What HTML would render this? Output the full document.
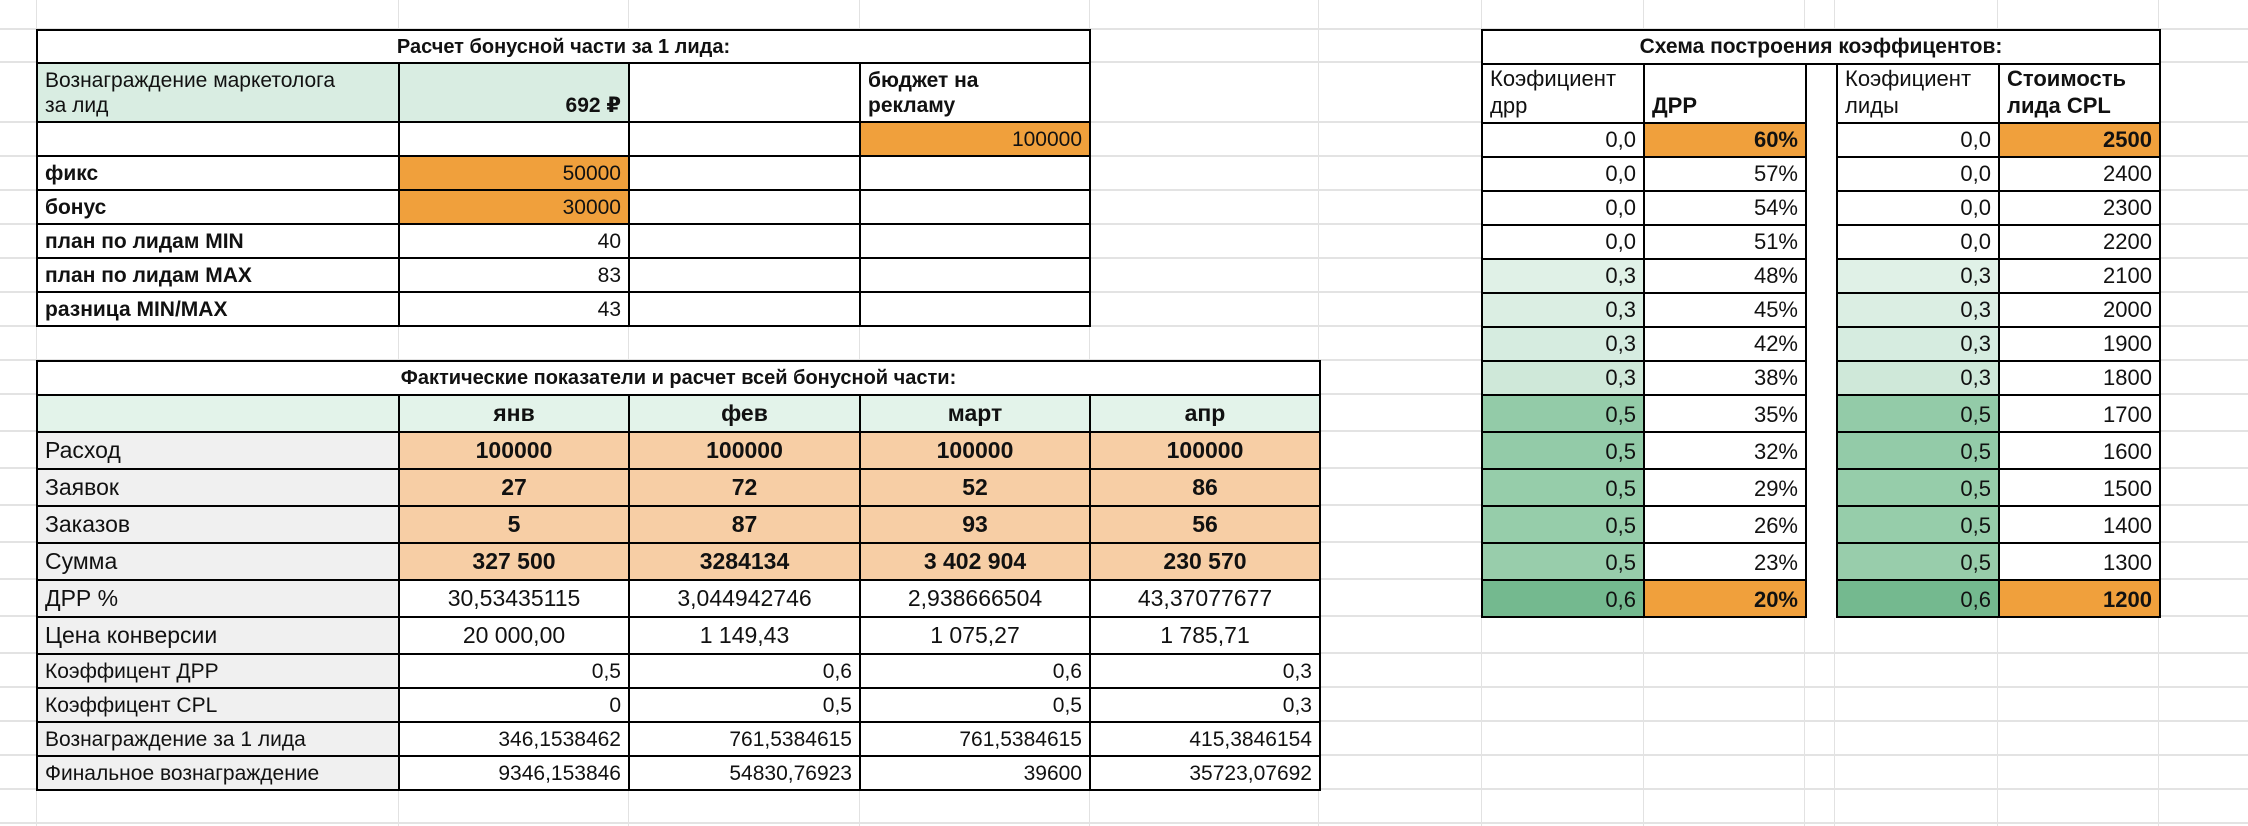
<!DOCTYPE html>
<html><head><meta charset="utf-8"><style>
*{box-sizing:border-box;margin:0;padding:0}
html,body{width:2248px;height:826px;background:#fff;overflow:hidden;font-family:"Liberation Sans","DejaVu Sans",sans-serif;color:#111}
.gv{position:absolute;top:0;width:1px;height:826px;background:#e2e2e2}
.gh{position:absolute;left:0;width:2248px;height:2px;background:#e3e3e3}
table{position:absolute;border-collapse:collapse;table-layout:fixed;background:#fff}
td{border:2px solid #000;padding:0 7px 3px 7px;vertical-align:bottom;white-space:nowrap;overflow:hidden;line-height:1.2}
.r{text-align:right}.c{text-align:center}.b{font-weight:bold}
.t{text-align:center;font-weight:bold;vertical-align:middle;padding:0}
.gr{background:#d9ede2}.or{background:#f0a03c}.lo{background:#f7cea5}.gy{background:#f0f0f0}.hg{background:#e3f3ea}
.g1{background:#e0f1e7}.g2{background:#dbeee3}.g3{background:#d6ece0}.g4{background:#cfe8d9}
.g5{background:#93cba8}.g6{background:#96cdaa}.g7{background:#98cdab}.g8{background:#74b98f}
.gap{border-top:none;border-bottom:none;background:transparent}
.two{line-height:1.22;padding-bottom:2px}
</style></head><body>
<div class="gv" style="left:36px"></div><div class="gv" style="left:398px"></div><div class="gv" style="left:628px"></div><div class="gv" style="left:859px"></div><div class="gv" style="left:1089px"></div><div class="gv" style="left:1318px"></div><div class="gv" style="left:1481px"></div><div class="gv" style="left:1643px"></div><div class="gv" style="left:1804px"></div><div class="gv" style="left:1834px"></div><div class="gv" style="left:1997px"></div><div class="gv" style="left:2158px"></div>
<div class="gh" style="top:28px"></div><div class="gh" style="top:61px"></div><div class="gh" style="top:121px"></div><div class="gh" style="top:155px"></div><div class="gh" style="top:189px"></div><div class="gh" style="top:223px"></div><div class="gh" style="top:257px"></div><div class="gh" style="top:291px"></div><div class="gh" style="top:325px"></div><div class="gh" style="top:359px"></div><div class="gh" style="top:393px"></div><div class="gh" style="top:430px"></div><div class="gh" style="top:467px"></div><div class="gh" style="top:504px"></div><div class="gh" style="top:541px"></div><div class="gh" style="top:578px"></div><div class="gh" style="top:615px"></div><div class="gh" style="top:652px"></div><div class="gh" style="top:686px"></div><div class="gh" style="top:720px"></div><div class="gh" style="top:754px"></div><div class="gh" style="top:788px"></div><div class="gh" style="top:822px"></div>

<table style="left:36px;top:29px;width:1053px;font-size:21px">
<col style="width:362px"><col style="width:230px"><col style="width:231px"><col style="width:230px">
<tr style="height:33px"><td class="t" colspan="4" style="font-size:20px">Расчет бонусной части за 1 лида:</td></tr>
<tr style="height:59px"><td class="gr two">Вознаграждение маркетолога<br>за лид</td><td class="gr r b">692 ₽</td><td></td><td class="b two">бюджет на<br>рекламу</td></tr>
<tr style="height:34px"><td></td><td></td><td></td><td class="or r">100000</td></tr>
<tr style="height:34px"><td class="b">фикс</td><td class="or r">50000</td><td></td><td></td></tr>
<tr style="height:34px"><td class="b">бонус</td><td class="or r">30000</td><td></td><td></td></tr>
<tr style="height:34px"><td class="b">план по лидам MIN</td><td class="r">40</td><td></td><td></td></tr>
<tr style="height:34px"><td class="b">план по лидам MAX</td><td class="r">83</td><td></td><td></td></tr>
<tr style="height:34px"><td class="b">разница MIN/MAX</td><td class="r">43</td><td></td><td></td></tr>
</table>

<table style="left:36px;top:360px;width:1283px;font-size:23px">
<col style="width:362px"><col style="width:230px"><col style="width:231px"><col style="width:230px"><col style="width:230px">
<tr style="height:34px"><td class="t" colspan="5" style="font-size:20px">Фактические показатели и расчет всей бонусной части:</td></tr>
<tr style="height:37px" class="hg"><td></td><td class="c b">янв</td><td class="c b">фев</td><td class="c b">март</td><td class="c b">апр</td></tr>
<tr style="height:37px"><td class="gy">Расход</td><td class="lo c b">100000</td><td class="lo c b">100000</td><td class="lo c b">100000</td><td class="lo c b">100000</td></tr>
<tr style="height:37px"><td class="gy">Заявок</td><td class="lo c b">27</td><td class="lo c b">72</td><td class="lo c b">52</td><td class="lo c b">86</td></tr>
<tr style="height:37px"><td class="gy">Заказов</td><td class="lo c b">5</td><td class="lo c b">87</td><td class="lo c b">93</td><td class="lo c b">56</td></tr>
<tr style="height:37px"><td class="gy">Сумма</td><td class="lo c b">327 500</td><td class="lo c b">3284134</td><td class="lo c b">3 402 904</td><td class="lo c b">230 570</td></tr>
<tr style="height:37px"><td class="gy">ДРР %</td><td class="c">30,53435115</td><td class="c">3,044942746</td><td class="c">2,938666504</td><td class="c">43,37077677</td></tr>
<tr style="height:37px"><td class="gy">Цена конверсии</td><td class="c">20 000,00</td><td class="c">1 149,43</td><td class="c">1 075,27</td><td class="c">1 785,71</td></tr>
<tr style="height:34px;font-size:21px"><td class="gy">Коэффицент ДРР</td><td class="r">0,5</td><td class="r">0,6</td><td class="r">0,6</td><td class="r">0,3</td></tr>
<tr style="height:34px;font-size:21px"><td class="gy">Коэффицент CPL</td><td class="r">0</td><td class="r">0,5</td><td class="r">0,5</td><td class="r">0,3</td></tr>
<tr style="height:34px;font-size:21px"><td class="gy">Вознаграждение за 1 лида</td><td class="r">346,1538462</td><td class="r">761,5384615</td><td class="r">761,5384615</td><td class="r">415,3846154</td></tr>
<tr style="height:34px;font-size:21px"><td class="gy">Финальное вознаграждение</td><td class="r">9346,153846</td><td class="r">54830,76923</td><td class="r">39600</td><td class="r">35723,07692</td></tr>
</table>

<table style="left:1481px;top:29px;width:678px;font-size:22px">
<col style="width:162px"><col style="width:162px"><col style="width:31px"><col style="width:162px"><col style="width:161px">
<tr style="height:34px"><td class="t" colspan="5" style="font-size:21px">Схема построения коэффицентов:</td></tr>
<tr style="height:59px"><td class="two">Коэфициент<br>дрр</td><td class="b">ДРР</td><td class="gap"></td><td class="two">Коэфициент<br>лиды</td><td class="b two">Стоимость<br>лида CPL</td></tr>
<tr style="height:34px"><td class="r">0,0</td><td class="or r b">60%</td><td class="gap"></td><td class="r">0,0</td><td class="or r b">2500</td></tr>
<tr style="height:34px"><td class="r">0,0</td><td class="r">57%</td><td class="gap"></td><td class="r">0,0</td><td class="r">2400</td></tr>
<tr style="height:34px"><td class="r">0,0</td><td class="r">54%</td><td class="gap"></td><td class="r">0,0</td><td class="r">2300</td></tr>
<tr style="height:34px"><td class="r">0,0</td><td class="r">51%</td><td class="gap"></td><td class="r">0,0</td><td class="r">2200</td></tr>
<tr style="height:34px"><td class="r g1">0,3</td><td class="r">48%</td><td class="gap"></td><td class="r g1">0,3</td><td class="r">2100</td></tr>
<tr style="height:34px"><td class="r g2">0,3</td><td class="r">45%</td><td class="gap"></td><td class="r g2">0,3</td><td class="r">2000</td></tr>
<tr style="height:34px"><td class="r g3">0,3</td><td class="r">42%</td><td class="gap"></td><td class="r g3">0,3</td><td class="r">1900</td></tr>
<tr style="height:34px"><td class="r g4">0,3</td><td class="r">38%</td><td class="gap"></td><td class="r g4">0,3</td><td class="r">1800</td></tr>
<tr style="height:37px"><td class="r g5">0,5</td><td class="r">35%</td><td class="gap"></td><td class="r g5">0,5</td><td class="r">1700</td></tr>
<tr style="height:37px"><td class="r g5">0,5</td><td class="r">32%</td><td class="gap"></td><td class="r g5">0,5</td><td class="r">1600</td></tr>
<tr style="height:37px"><td class="r g6">0,5</td><td class="r">29%</td><td class="gap"></td><td class="r g6">0,5</td><td class="r">1500</td></tr>
<tr style="height:37px"><td class="r g6">0,5</td><td class="r">26%</td><td class="gap"></td><td class="r g6">0,5</td><td class="r">1400</td></tr>
<tr style="height:37px"><td class="r g7">0,5</td><td class="r">23%</td><td class="gap"></td><td class="r g7">0,5</td><td class="r">1300</td></tr>
<tr style="height:37px"><td class="r g8">0,6</td><td class="or r b">20%</td><td class="gap"></td><td class="r g8">0,6</td><td class="or r b">1200</td></tr>
</table>
</body></html>
